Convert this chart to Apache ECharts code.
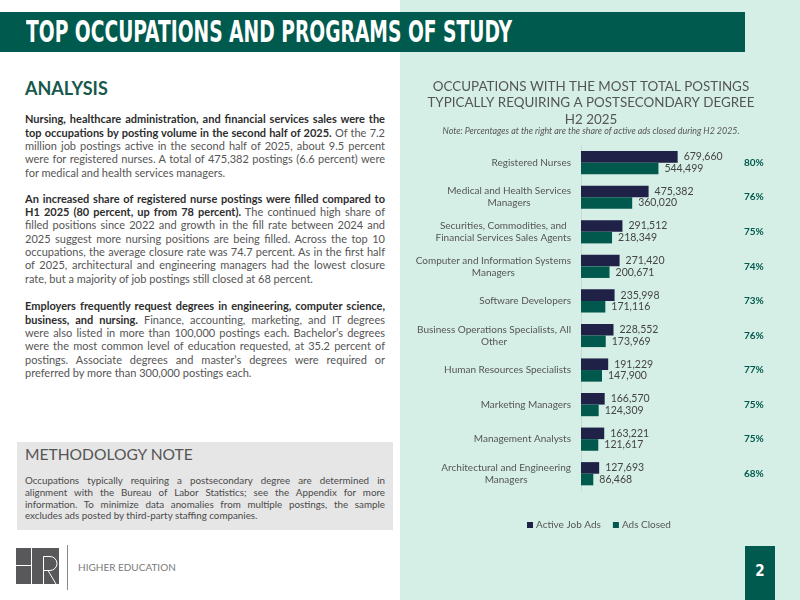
<!DOCTYPE html>
<html>
<head>
<meta charset="utf-8">
<script src="https://cdn.jsdelivr.net/npm/echarts@6/dist/echarts.min.js"></script>
<style>
  html, body { margin: 0; padding: 0; }
  body { width: 800px; height: 600px; position: relative; overflow: hidden; background: #ffffff; font-family: Lato, "Noto Sans", sans-serif; }
  #mint { position: absolute; left: 400px; top: 0; width: 400px; height: 600px; background: #d5efe6; }
  #header { position: absolute; left: 0; top: 12px; width: 745px; height: 40px; background: #005a4e; }
  #htitle { position: absolute; left: 26px; top: 18px; font-family: "Liberation Sans Narrow", "DejaVu Sans Condensed", sans-serif; font-weight: bold; font-size: 29.6px; line-height: 29.6px; color: #ffffff; white-space: nowrap; transform-origin: 0 0; }
  #analysis { position: absolute; left: 25px; top: 79px; font-size: 18px; line-height: 18px; font-weight: bold; color: #17594c; }
  .para { position: absolute; left: 25px; width: 360px; font-size: 11px; line-height: 13.33px; color: #555555; text-align: justify; }
  .para b { color: #2e2e2e; }
  #method { position: absolute; left: 17px; top: 442px; width: 376px; height: 88px; background: #e6e6e6; }
  #mtitle { position: absolute; left: 25px; top: 447.2px; font-size: 15.6px; line-height: 15.6px; color: #555555; }
  #mbody { position: absolute; left: 25px; top: 475.4px; width: 360px; font-size: 9.8px; line-height: 11.6px; color: #4a4a4a; text-align: justify; }
  #logo { position: absolute; left: 16px; top: 548px; }
  #sep { position: absolute; left: 67px; top: 545px; width: 1px; height: 45px; background: #8a8a8a; }
  #hied { position: absolute; left: 78px; top: 561.8px; font-size: 10px; line-height: 10px; color: #7a7a7a; }
  #pagebox { position: absolute; left: 745px; top: 546px; width: 30px; height: 54px; background: #005a4e; }
  #pagenum { position: absolute; left: 0; top: 18px; width: 30px; text-align: center; font-family: "Liberation Sans Narrow", "DejaVu Sans Condensed", sans-serif; font-weight: bold; font-size: 15px; line-height: 15px; color: #ffffff; }
  #chart { position: absolute; left: 400px; top: 60px; width: 382px; height: 490px; }
</style>
</head>
<body>
<div id="mint"></div>
<div id="header"></div>
<div id="htitle">TOP OCCUPATIONS AND PROGRAMS OF STUDY</div>
<div id="analysis">ANALYSIS</div>
<div class="para" style="top:112.4px"><b>Nursing, healthcare administration, and financial services sales were the top occupations by posting volume in the second half of 2025.</b> Of the 7.2 million job postings active in the second half of 2025, about 9.5 percent were for registered nurses. A total of 475,382 postings (6.6 percent) were for medical and health services managers.</div>
<div class="para" style="top:191.8px"><b>An increased share of registered nurse postings were filled compared to H1 2025 (80 percent, up from 78 percent).</b> The continued high share of filled positions since 2022 and growth in the fill rate between 2024 and 2025 suggest more nursing positions are being filled. Across the top 10 occupations, the average closure rate was 74.7 percent. As in the first half of 2025, architectural and engineering managers had the lowest closure rate, but a majority of job postings still closed at 68 percent.</div>
<div class="para" style="top:299.4px"><b>Employers frequently request degrees in engineering, computer science, business, and nursing.</b> Finance, accounting, marketing, and IT degrees were also listed in more than 100,000 postings each. Bachelor’s degrees were the most common level of education requested, at 35.2 percent of postings. Associate degrees and master’s degrees were required or preferred by more than 300,000 postings each.</div>
<div id="method"></div>
<div id="mtitle">METHODOLOGY NOTE</div>
<div id="mbody">Occupations typically requiring a postsecondary degree are determined in alignment with the Bureau of Labor Statistics; see the Appendix for more information. To minimize data anomalies from multiple postings, the sample excludes ads posted by third-party staffing companies.</div>
<svg id="logo" width="43" height="36" viewBox="0 0 43 36">
  <rect x="0" y="0" width="43" height="36" fill="#58585a"/>
  <line x1="0" y1="17.5" x2="15" y2="17.5" stroke="#ffffff" stroke-width="1"/>
  <line x1="15.5" y1="0" x2="15.5" y2="36" stroke="#ffffff" stroke-width="1"/>
  <path d="M27.5 36 V8.5 H34 A7 7 0 0 1 34 22.5 H27.5 M32 22.5 L40 36" fill="none" stroke="#ffffff" stroke-width="1"/>
</svg>
<div id="sep"></div>
<div id="hied">HIGHER EDUCATION</div>
<div id="pagebox"><div id="pagenum">2</div></div>
<div id="chart"></div>
<script>
// ---- data ----
var categories = [
  "Registered Nurses",
  "Medical and Health Services\nManagers",
  "Securities, Commodities, and\nFinancial Services Sales Agents",
  "Computer and Information Systems\nManagers",
  "Software Developers",
  "Business Operations Specialists, All\nOther",
  "Human Resources Specialists",
  "Marketing Managers",
  "Management Analysts",
  "Architectural and Engineering\nManagers"
];
var activeJobAds = [679660, 475382, 291512, 271420, 235998, 228552, 191229, 166570, 163221, 127693];
var adsClosed = [544499, 360020, 218349, 200671, 171116, 173969, 147900, 124309, 121617, 86468];
var closedShare = ["80%", "76%", "75%", "74%", "73%", "76%", "77%", "75%", "75%", "68%"];
var seriesNames = ["Active Job Ads", "Ads Closed"];
var chartTitle = "OCCUPATIONS WITH THE MOST TOTAL POSTINGS\nTYPICALLY REQUIRING A POSTSECONDARY DEGREE\nH2 2025";
var chartNote = "Note: Percentages at the right are the share of active ads closed during H2 2025.";

// fit header title width
(function () {
  var el = document.getElementById('htitle');
  var w = el.getBoundingClientRect().width;
  el.style.transform = 'scaleX(' + (486 / w) + ')';
})();

var fmt = function (v) { return Number(v).toLocaleString('en-US'); };
var chart = echarts.init(document.getElementById('chart'), null, { renderer: 'canvas' });
chart.setOption({
  backgroundColor: 'transparent',
  animation: false,
  title: [
    {
      text: chartTitle,
      left: 'center',
      top: 18.4,
      padding: 0,
      textStyle: { fontFamily: 'Lato', fontSize: 13.4, fontWeight: 'normal', color: '#555555', lineHeight: 16.5 }
    },
    {
      text: chartNote,
      left: 'center',
      top: 66,
      padding: 0,
      textStyle: { fontFamily: 'Lato', fontSize: 8.9, fontStyle: 'italic', fontWeight: 'normal', color: '#555555', lineHeight: 10 }
    }
  ],
  legend: {
    data: seriesNames,
    left: 127,
    top: 460,
    itemWidth: 6,
    itemHeight: 6,
    itemGap: 12,
    icon: 'rect',
    padding: 0,
    textStyle: { fontFamily: 'Lato', fontSize: 10, color: '#555555', padding: [0, 0, 0, -2] }
  },
  grid: { left: 181, right: 58.8, top: 85.4, bottom: 59, containLabel: false },
  xAxis: {
    type: 'value', min: 0, max: 1000000, show: false
  },
  yAxis: [
    {
      type: 'category', data: categories, inverse: true,
      axisLine: { show: true, lineStyle: { color: '#c4dcd3', width: 1 } },
      axisTick: { show: false },
      axisLabel: {
        margin: 10,
        color: '#555555',
        fontFamily: 'Lato',
        fontSize: 10,
        lineHeight: 12,
        formatter: function (v) {
          return v.split('\n').map(function (s) { return '{c|' + s + '}'; }).join('\n');
        },
        rich: { c: { align: 'center', fontFamily: 'Lato', fontSize: 10, lineHeight: 12, color: '#555555' } }
      }
    },
    {
      type: 'category', data: closedShare, inverse: true, position: 'right',
      axisLine: { show: false }, axisTick: { show: false },
      axisLabel: { margin: 20.8, color: '#00594c', fontFamily: 'Lato', fontSize: 10, fontWeight: 'bold', align: 'left' }
    }
  ],
  series: [
    {
      name: seriesNames[0], type: 'bar', data: activeJobAds, yAxisIndex: 0,
      barWidth: 11.6, barGap: '0%',
      itemStyle: { color: '#202147' },
      label: { show: true, position: 'right', distance: 6, formatter: function (p) { return fmt(p.value); }, fontFamily: 'Lato', fontSize: 10.5, color: '#444444' }
    },
    {
      name: seriesNames[1], type: 'bar', data: adsClosed, yAxisIndex: 0,
      barWidth: 11.6, barGap: '0%',
      itemStyle: { color: '#00594c' },
      label: { show: true, position: 'right', distance: 6, formatter: function (p) { return fmt(p.value); }, fontFamily: 'Lato', fontSize: 10.5, color: '#444444' }
    }
  ]
});
</script>
</body>
</html>
